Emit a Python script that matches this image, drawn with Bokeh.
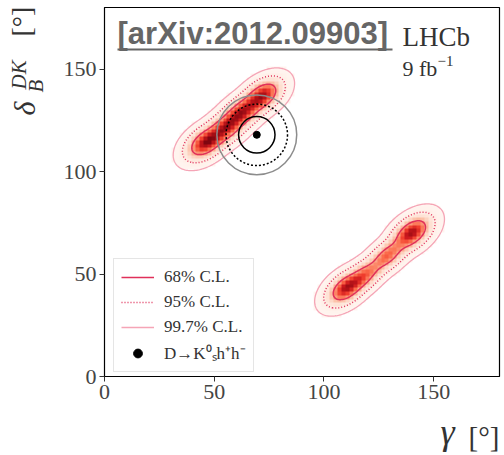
import numpy as np
from bokeh.plotting import figure
from bokeh.layouts import row, column
from bokeh.models import (Range1d, Label, Legend, LegendItem, LinearColorMapper,
                          FixedTicker, BoxAnnotation)
from bokeh.palettes import Reds256
from bokeh.embed import file_html
from bokeh.resources import INLINE

# ---------------- data ----------------
x_ticks = [0, 50, 100, 150]
y_ticks = [0, 50, 100, 150]

# Likelihood model: Gaussian components along two bands
comp_gamma = [46, 55, 63, 72, 110, 118, 129, 140]
comp_delta = [114, 121, 129, 137, 43, 49, 59, 70]
comp_weight = [1.0, 0.9, 0.9, 0.95, 0.9, 0.6, 0.6, 1.0]
comp_sigma_along = [5.0, 5.5, 5.5, 5.0, 5.0, 5.5, 5.5, 5.2]
comp_sigma_perp = [3.1, 3.1, 3.1, 3.1, 3.0, 2.8, 2.8, 3.1]
comp_angle_deg = [40, 40, 40, 40, 42, 42, 42, 42]

cl_labels = ["68% C.L.", "95% C.L.", "99.7% C.L."]
cl_dchi2 = [2.30, 6.18, 11.83]
cl_colors = ["#e0305a", "#e0305a", "#f5a5b6"]
cl_dashes = ["solid", "1 2", "solid"]
cl_widths = [1.5, 1.5, 1.3]

kshh_label = "D→K⁰ₛh⁺h⁻"
kshh_gamma = [69.4]
kshh_delta = [117.9]
kshh_radii = [8.3, 14.0, 18.2]
kshh_colors = ["black", "black", "#8c8c8c"]
kshh_dashes = ["solid", "2 2", "solid"]

# ---------------- model ----------------
def likelihood(G, D):
    L = np.zeros_like(G)
    for g0, d0, w, sa, sp, a in zip(comp_gamma, comp_delta, comp_weight,
                                    comp_sigma_along, comp_sigma_perp, comp_angle_deg):
        t = np.deg2rad(a)
        u = (G - g0) * np.cos(t) + (D - d0) * np.sin(t)
        v = -(G - g0) * np.sin(t) + (D - d0) * np.cos(t)
        L += w * np.exp(-0.5 * (u ** 2 / sa ** 2 + v ** 2 / sp ** 2))
    return L

X0, X1, Y0, Y1 = 0.0, 180.0, 0.0, 180.0
fine = np.linspace(X0, X1, 361)
GF, DF = np.meshgrid(fine, fine)
LF = likelihood(GF, DF)
chi2 = -2.0 * np.log(np.maximum(LF / LF.max(), 1e-300))

cell = 1.8
centers = np.arange(X0 + cell / 2, X1, cell)
GC, DC = np.meshgrid(centers, centers)
LC = likelihood(GC, DC)
LC = LC / LC.max()
LC[LC < 0.002] = np.nan

SERIF = "Liberation Serif"
TXT = "#333333"

def add_label(fig, text, x, y, size, font=SERIF, style="normal", color=TXT,
              angle=0.0, dx=0.0, dy=0.0):
    # x, y: position of the text baseline start, frame-relative pixels (y up)
    fs = float(size.replace("px", ""))
    off = 0.34 * fs
    if angle == 0.0:
        ax, ay = x, y + off
    else:
        ax, ay = x - off, y
    fig.add_layout(Label(x=ax + dx, y=ay + dy, x_units="screen", y_units="screen", text=text,
                         text_font=font, text_font_size=size, text_font_style=style,
                         text_color=color, angle=angle, text_baseline="middle",
                         text_align="left"))

def blank(w, h):
    f = figure(width=w, height=h, output_backend="svg", toolbar_location=None,
               x_axis_location=None, y_axis_location=None, title=None,
               x_range=Range1d(0, 1), y_range=Range1d(0, 1),
               min_border_left=0, min_border_right=0, min_border_top=0, min_border_bottom=0)
    f.grid.visible = False
    f.outline_line_color = None
    return f

TOP_H = 410

# ---------------- main figure ----------------
p = figure(width=444, height=TOP_H, output_backend="svg", toolbar_location=None,
           x_range=Range1d(X0, X1), y_range=Range1d(Y0, Y1),
           min_border_left=44, min_border_right=5, min_border_top=7,
           min_border_bottom=TOP_H - 376)
p.grid.visible = False
p.outline_line_color = "black"
p.outline_line_width = 1.2

for ax, ticks in ((p.xaxis, x_ticks), (p.yaxis, y_ticks)):
    ax.ticker = FixedTicker(ticks=ticks)
    ax.minor_tick_line_color = None
    ax.major_tick_in = 0
    ax.major_tick_out = 5
    ax.major_label_text_font = SERIF
    ax.major_label_text_font_size = "22px"
    ax.major_label_text_color = "#444444"
    ax.axis_line_color = "black"
    ax.major_tick_line_color = "#333333"
    ax.major_label_standoff = 3

mapper = LinearColorMapper(palette=list(Reds256[::-1]), low=0, high=1.05, nan_color="#00000000")
p.image(image=[LC], x=X0, y=Y0, dw=X1 - X0, dh=Y1 - Y0, color_mapper=mapper)

legend_items = []
for lab, lev, col, dash, w in zip(cl_labels, cl_dchi2, cl_colors, cl_dashes, cl_widths):
    p.contour(fine, fine, chi2, levels=[lev], line_color=col, line_dash=dash, line_width=w)
    key = p.line(x=[np.nan], y=[np.nan], line_color=col, line_dash=dash, line_width=w)
    legend_items.append(LegendItem(label=lab, renderers=[key]))

for r, col, dash in zip(kshh_radii, kshh_colors, kshh_dashes):
    p.circle(x=kshh_gamma, y=kshh_delta, radius=r, fill_color=None,
             line_color=col, line_dash=dash, line_width=1.5)
dot = p.scatter(x=kshh_gamma, y=kshh_delta, size=7, color="black")
legend_items.append(LegendItem(label=kshh_label, renderers=[dot]))

legend = Legend(items=legend_items, location=(9, 4), margin=0, padding=7,
                label_text_font=SERIF, label_text_font_size="17px",
                label_text_color=TXT, glyph_width=33, glyph_height=22,
                label_height=22, label_standoff=10, spacing=3,
                border_line_color="#cccccc", background_fill_alpha=0.85)
p.add_layout(legend, "center")

# top annotations: frame-relative (frame: page x 104..499, y 7..376)
FX, FB = 104, 376
add_label(p, "[arXiv:2012.09903]", 117 - FX, FB - 44, "31px", font="Liberation Sans",
          style="bold", color="#666666")
p.add_layout(BoxAnnotation(left=117 - FX, right=392 - FX, bottom=FB - 50, top=FB - 48,
                           left_units="screen", right_units="screen",
                           bottom_units="screen", top_units="screen",
                           fill_color="#666666", fill_alpha=1, line_alpha=0))
add_label(p, "LHCb", 402 - FX, FB - 46, "27px")
add_label(p, "9 fb", 402 - FX, FB - 75, "22px")
add_label(p, "−1", 437 - FX, FB - 66, "15px")

# ---------------- y label panel ----------------
left = blank(60, TOP_H)
RDX, RDY = -11, -33
add_label(left, "δ", 45, TOP_H - 116, "30px", style="italic", angle=np.pi / 2, dx=RDX, dy=RDY)
add_label(left, "DK", 37, TOP_H - 90, "21px", style="italic", angle=np.pi / 2, dx=RDX, dy=RDY)
add_label(left, "B", 54, TOP_H - 93, "21px", style="italic", angle=np.pi / 2, dx=RDX, dy=RDY)
add_label(left, "[°]", 42, TOP_H - 37, "28px", angle=np.pi / 2, dx=RDX, dy=RDY)

# ---------------- x label panel ----------------
BH = 455 - TOP_H
bottom = blank(504, BH)
add_label(bottom, "γ", 440, BH - (444 - TOP_H), "36px", style="italic")
add_label(bottom, "[°]", 468, BH - (446 - TOP_H), "29px")

layout = column(row(left, p), bottom)
open("out.html", "w").write(file_html(layout, INLINE))
